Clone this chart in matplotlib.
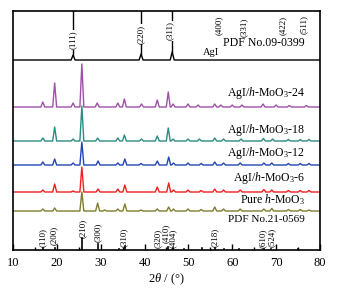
"""
XRD patterns of AgI / h-MoO3 composites with standard cards (PDF 09-0399, 21-0569).
"""
import matplotlib
matplotlib.use("Agg")
import matplotlib.pyplot as plt
from matplotlib.ticker import MultipleLocator

plt.rcParams["font.family"] = "Liberation Serif"
plt.rcParams["mathtext.fontset"] = "custom"
plt.rcParams["mathtext.rm"] = "Liberation Serif"
plt.rcParams["mathtext.it"] = "Liberation Serif:italic"

# ---------------------------------------------------------------------------
# Data (2theta in degrees, intensity in arbitrary units)
# ---------------------------------------------------------------------------

samples = ["AgI", "AgI/h-MoO3-24", "AgI/h-MoO3-18", "AgI/h-MoO3-12",
           "AgI/h-MoO3-6", "Pure h-MoO3"]

agi_pos = [23.7, 39.2, 46.3]
agi_int = [5, 6, 8]

s24_pos = [16.8, 19.5, 23.7, 25.7, 29.2, 33.9, 35.4, 39.3, 42.9, 45.4, 46.5,
           49.9, 52.2, 56.0, 57.4, 60.0, 62.2, 67.0, 70.0, 73.0, 76.9]
s24_int = [5, 24, 4, 43, 4, 4, 8, 3, 7, 15, 3,
           3, 2, 3, 2, 2, 2, 3, 2, 1.5, 1.5]

s18_pos = [16.8, 19.5, 23.7, 25.7, 29.3, 33.9, 35.4, 39.3, 42.9, 45.4, 46.5,
           49.9, 52.5, 56.0, 58.0, 62.0, 67.1, 69.2, 72.8, 75.5, 77.5]
s18_int = [3, 14, 2, 35, 3, 3, 6, 2, 5, 13, 2,
           2, 2, 3, 2, 2, 2.5, 2, 1.5, 1.5, 1.5]

s12_pos = [16.8, 19.5, 23.7, 25.7, 29.4, 33.9, 35.5, 39.2, 42.9, 45.5, 46.6,
           49.9, 52.9, 56.0, 58.0, 61.8, 67.2, 69.0, 72.8, 75.5, 77.5]
s12_int = [3, 6, 2, 23, 4, 2, 6, 1.5, 4, 8, 2,
           2, 1.5, 3, 2, 2, 2, 2, 1.5, 1.5, 1.5]

s6_pos = [16.8, 19.5, 23.7, 25.7, 29.4, 33.9, 35.5, 42.9, 45.5, 46.6,
          49.9, 52.9, 56.0, 58.0, 61.8, 67.2, 69.0, 72.8, 75.5, 77.5]
s6_int = [2, 8, 1, 25, 3, 3, 7, 5, 9, 2,
          2, 1.5, 3, 2, 2, 2.5, 2, 1.5, 1.5, 1.5]

pure_pos = [16.8, 19.5, 25.7, 29.3, 30.9, 33.9, 35.5, 39.2, 42.9, 45.5, 46.6,
            49.9, 52.9, 56.0, 58.0, 61.8, 67.2, 69.0, 72.8, 75.5, 77.5]
pure_int = [2, 3, 19, 8, 1, 2, 7, 1, 2, 4, 2,
            2, 1.5, 4, 2, 2, 2, 2.5, 1.5, 1.5, 1]

# standard card PDF No.09-0399 (AgI): indexed reflections
agi_hkl = ["(111)", "(220)", "(311)", "(400)", "(331)", "(422)", "(511)"]
agi_hkl_pos = [23.7, 39.2, 45.8, 56.9, 62.6, 71.5, 76.3]
agi_stick_pos = [23.7, 39.2, 46.3]

# standard card PDF No.21-0569 (h-MoO3)
moo3_stick_pos = [16.8, 19.5, 25.7, 29.4, 34.1, 35.5, 45.4, 46.5, 49.0,
                  53.2, 56.0, 58.0, 61.5, 67.2, 68.9, 75.0]
moo3_stick_int = [2, 2, 12, 6, 1, 4, 3, 2, 1.5,
                  2, 2, 1, 1, 1, 1.5, 1]
moo3_hkl = ["(110)", "(200)", "(210)", "(300)", "(310)", "(320)", "(410)",
            "(404)", "(218)", "(610)", "(524)"]
moo3_hkl_pos = [16.9, 19.3, 25.9, 29.4, 35.3, 43.0, 44.8, 46.4, 56.0, 66.9, 69.0]

# ---------------------------------------------------------------------------
# Layout / style
# ---------------------------------------------------------------------------

OFFSETS = [190, 143, 109, 85, 58, 39]
COLORS = ["black", "#a04fa8", "#2a8c82", "#2146b4", "#f01e1e", "#7f7d2e"]
LABELS = [None,
          "AgI/$h$-MoO$_3$-24",
          "AgI/$h$-MoO$_3$-18",
          "AgI/$h$-MoO$_3$-12",
          "AgI/$h$-MoO$_3$-6",
          "Pure $h$-MoO$_3$"]
LABEL_Y = [0, 157, 120, 97, 72, 50]
MOO3_HKL_Y = [3, 5, 12, 8, 3, 2, 7, 2, 3, 2, 3]
AGI_HKL_Y = [210, 216, 219, 225, 223, 225, 225]
HALF_W = 0.45


def trace(pos, inten, base):
    """Polyline through baseline and peak apices."""
    xs, ys = [10], [base]
    for p, h in sorted(zip(pos, inten)):
        xs += [p - HALF_W, p, p + HALF_W]
        ys += [base, base + h, base]
    xs.append(80)
    ys.append(base)
    return xs, ys


fig = plt.figure(figsize=(3.44, 2.89), dpi=100)
ax = fig.add_axes([13 / 344, 39 / 289, 307 / 344, 239 / 289])

series = [(agi_pos, agi_int), (s24_pos, s24_int), (s18_pos, s18_int),
          (s12_pos, s12_int), (s6_pos, s6_int), (pure_pos, pure_int)]
for (pos, inten), base, c in zip(series, OFFSETS, COLORS):
    xs, ys = trace(pos, inten, base)
    ax.plot(xs, ys, color=c, lw=1.0, solid_joinstyle="round")

for lab, y in zip(LABELS[1:], LABEL_Y[1:]):
    ax.text(76.5, y, lab, ha="right", va="center", fontsize=8.5)

# AgI reference sticks from the top
peak_of = dict(zip(agi_pos, agi_int))
for p in agi_stick_pos:
    ax.plot([p, p], [OFFSETS[0] + peak_of[p], 239], color="black", lw=1.0)
for lab, p, y in zip(agi_hkl, agi_hkl_pos, AGI_HKL_Y):
    ax.text(p, y, lab, rotation=90, ha="center", va="center", fontsize=6.5,
            bbox=dict(facecolor="white", edgecolor="none", pad=0.3))
ax.text(57.0, 193, "AgI", ha="right", va="bottom", fontsize=7.5)
ax.text(76.6, 201, "PDF No.09-0399", ha="right", va="bottom", fontsize=8.5)

# h-MoO3 reference sticks from the bottom
for p, h in zip(moo3_stick_pos, moo3_stick_int):
    ax.plot([p, p], [0, h], color="black", lw=1.2)
for lab, p, y in zip(moo3_hkl, moo3_hkl_pos, MOO3_HKL_Y):
    ax.text(p, y, lab, rotation=90, ha="center", va="bottom", fontsize=6.5)
ax.text(76.5, 30, "PDF No.21-0569", ha="right", va="center", fontsize=8)

ax.set_xlim(10, 80)
ax.set_ylim(0, 239)
ax.set_yticks([])
ax.xaxis.set_major_locator(MultipleLocator(10))
ax.xaxis.set_minor_locator(MultipleLocator(5))
ax.tick_params(axis="x", which="major", direction="in", length=4, width=1.0,
               labelsize=9, pad=5)
ax.tick_params(axis="x", which="minor", direction="in", length=2.5, width=1.0)
for s in ax.spines.values():
    s.set_linewidth(1.2)
ax.set_xlabel(r"$2\theta$ / (°)", fontsize=9, labelpad=2)

fig.savefig("out.png", dpi=100)
